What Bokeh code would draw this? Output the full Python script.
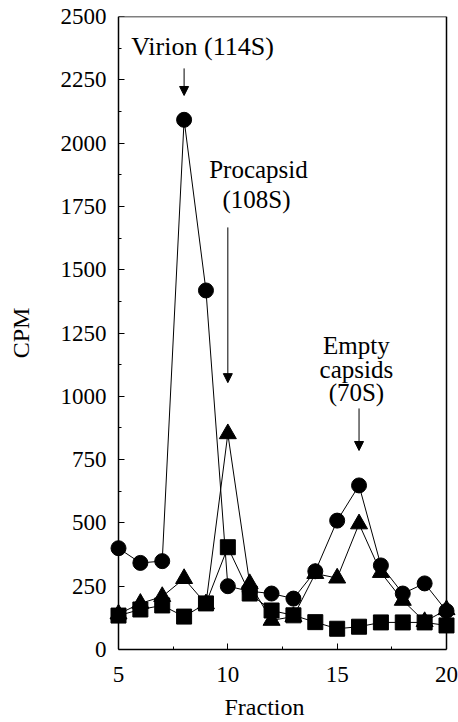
from bokeh.plotting import figure
from bokeh.models import FixedTicker, Label, Arrow, NormalHead, Range1d, ColumnDataSource, LinearAxis
from bokeh.embed import file_html
from bokeh.resources import INLINE

fraction = list(range(5, 21))
circle_cpm = [400, 342, 349, 2092, 1418, 250, 230, 221, 201, 309, 509, 648, 332, 221, 261, 152]
triangle_cpm = [140, 182, 209, 280, 180, 852, 260, 115, 130, 300, 282, 496, 304, 194, 110, 157]
square_cpm = [134, 158, 174, 130, 182, 404, 221, 154, 135, 108, 82, 90, 107, 107, 107, 95]

x_ticks = [5, 10, 15, 20]
x_minor = [7.5, 12.5, 17.5]
y_ticks = list(range(0, 2501, 250))
y_minor = list(range(125, 2500, 250))

X0, X1 = 5, 20
Y0, Y1 = 0, 2500
FONT = "Liberation Serif"

# pad the x range so edge markers are not clipped; the box is drawn at 5 / 20
pad = 10 / (328 / (X1 - X0))

p = figure(width=458, height=722, output_backend="svg", toolbar_location=None,
           x_range=Range1d(X0 - pad, X1 + pad), y_range=Range1d(Y0, Y1),
           min_border_left=108, min_border_right=2, min_border_top=16, min_border_bottom=73)
p.grid.visible = False
p.outline_line_color = None
p.background_fill_color = "white"
p.border_fill_color = "white"

def text_style(ax):
    ax.major_label_text_font = FONT
    ax.major_label_text_font_size = "23px"
    ax.major_label_text_color = "black"
    ax.axis_label_text_font = FONT
    ax.axis_label_text_font_size = "24px"
    ax.axis_label_text_font_style = "normal"
    ax.axis_label_text_color = "black"

def tick_style(ax):
    ax.major_tick_in = 6
    ax.major_tick_out = 0
    ax.minor_tick_in = 3
    ax.minor_tick_out = 0
    ax.axis_line_width = 1.5
    ax.axis_line_color = "black"
    ax.major_tick_line_color = "black"
    ax.minor_tick_line_color = "black"

# bottom axis: line, ticks and labels
xa = p.xaxis[0]
xa.ticker = FixedTicker(ticks=x_ticks, minor_ticks=x_minor)
xa.bounds = (X0, X1)
tick_style(xa)
text_style(xa)
xa.major_label_standoff = 17
xa.axis_label = "Fraction" + "\u00a0" * 6
xa.axis_label_standoff = 9

# left axis: labels only (at the frame edge)
ya = p.yaxis[0]
ya.ticker = FixedTicker(ticks=y_ticks, minor_ticks=y_minor)
text_style(ya)
ya.axis_line_color = None
ya.major_tick_line_color = None
ya.minor_tick_line_color = None
ya.major_tick_out = 0
ya.minor_tick_out = 0
ya.major_label_standoff = 2
ya.axis_label = "CPM"
ya.axis_label_standoff = 24

# left axis line and inward ticks pinned at fraction 5 (no labels drawn)
yline = LinearAxis(ticker=FixedTicker(ticks=y_ticks, minor_ticks=y_minor), bounds=(Y0, Y1),
                   fixed_location=X0, major_label_text_color=None)
tick_style(yline)
p.add_layout(yline, "left")

def frame_axis(bounds, loc):
    return LinearAxis(ticker=FixedTicker(ticks=[]), bounds=bounds, fixed_location=loc,
                      axis_line_width=1.5, axis_line_color="black", major_label_text_color=None,
                      major_tick_line_color=None, minor_tick_line_color=None)

p.add_layout(frame_axis((X0, X1), Y1), "above")
p.add_layout(frame_axis((Y0, Y1), X1), "right")

src = ColumnDataSource(dict(x=fraction, c=circle_cpm, t=triangle_cpm, s=square_cpm))

p.line("x", "c", source=src, line_color="black", line_width=1)
p.line("x", "t", source=src, line_color="black", line_width=1)
p.line("x", "s", source=src, line_color="black", line_width=1)
p.scatter("x", "t", source=src, marker="triangle", size=17, fill_color="black", line_color="black")
p.scatter("x", "s", source=src, marker="square", size=15, fill_color="black", line_color="black")
p.scatter("x", "c", source=src, marker="circle", size=15, fill_color="black", line_color="black")

def txt(x, y, s, size="25px"):
    p.add_layout(Label(x=x, y=y, text=s, text_font=FONT, text_font_size=size,
                       text_align="center", text_baseline="middle", text_color="black"))

txt(8.84, 2381, "Virion (114S)", size="26px")
txt(11.40, 1896, "Procapsid")
txt(11.31, 1777, "(108S)")
txt(15.88, 1201, "Empty")
txt(15.88, 1106, "capsids")
txt(15.88, 1015, "(70S)")

def arrow(x, y0, y1):
    p.add_layout(Arrow(x_start=x, y_start=y0, x_end=x, y_end=y1, line_width=1, line_color="black",
                       end=NormalHead(size=9, fill_color="black", line_color="black")))

arrow(8, 2295, 2188)
arrow(10, 1667, 1054)
arrow(16, 952, 786)

open("out.html", "w").write(file_html(p, INLINE))
